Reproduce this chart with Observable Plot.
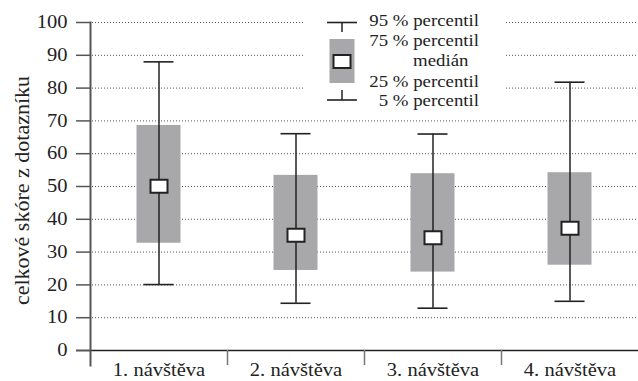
<!DOCTYPE html>
<html>
<head>
<meta charset="utf-8">
<script src="https://cdn.jsdelivr.net/npm/d3@7"></script>
<script src="https://cdn.jsdelivr.net/npm/@observablehq/plot@0.6"></script>
<style>
  html, body { margin: 0; padding: 0; background: #fff; }
</style>
</head>
<body>
<div id="chart"></div>
<script>
// Questionnaire total score per visit: 5th/25th/50th/75th/95th percentiles
const categories = ["1. návštěva", "2. návštěva", "3. návštěva", "4. návštěva"];
const p5     = [20.1, 14.4, 12.9, 15.0];
const q25    = [32.7, 24.4, 23.9, 26.0];
const median = [50.1, 35.1, 34.4, 37.3];
const q75    = [68.6, 53.4, 53.9, 54.2];
const p95    = [88.0, 66.1, 66.0, 81.8];

const yTicks = [0, 10, 20, 30, 40, 50, 60, 70, 80, 90, 100];
const yTitle = "celkové skóre z dotazníku";
const legendLabels = ["95 % percentil", "75 % percentil", "medián", "25 % percentil", "5 % percentil"];

const rows = categories.map((visit, i) => ({
  visit, p5: p5[i], q25: q25[i], median: median[i], q75: q75[i], p95: p95[i]
}));

const W = 638, H = 381;
const mL = 90, mR = 0, mT = 22, mB = 31;
const band = (W - mL - mR) / categories.length;
const boxW = 44, capW = 30;
const ink = "#222";
const boxFill = "#a8a8ab";
const font = "'Liberation Serif', 'DejaVu Serif', serif";

// small open rectangle used for the median
const medianSymbol = { draw(ctx) { ctx.rect(-8.5, -6.5, 17, 13); } };

const chart = Plot.plot({
  width: W,
  height: H,
  marginLeft: mL,
  marginRight: mR,
  marginTop: mT,
  marginBottom: mB,
  style: { fontFamily: font, fontSize: "18px", color: ink, background: "#fff", overflow: "visible" },
  x: { type: "band", domain: categories, padding: 0, label: null },
  y: { domain: [0, 100], label: null },
  marks: [
    Plot.gridY(yTicks.filter(v => v > 0), { stroke: "#555", strokeOpacity: 1, strokeDasharray: "1,2", insetLeft: 2 }),
    Plot.barY(rows, { x: "visit", y1: "q25", y2: "q75", fill: boxFill, insetLeft: (band - boxW) / 2, insetRight: (band - boxW) / 2 }),
    Plot.ruleX(rows, { x: "visit", y1: "p5", y2: "p95", stroke: ink, strokeWidth: 1.5 }),
    Plot.tickY(rows, { x: "visit", y: "p95", stroke: ink, strokeWidth: 1.6, insetLeft: (band - capW) / 2, insetRight: (band - capW) / 2 }),
    Plot.tickY(rows, { x: "visit", y: "p5", stroke: ink, strokeWidth: 1.6, insetLeft: (band - capW) / 2, insetRight: (band - capW) / 2 }),
    Plot.dot(rows, { x: "visit", y: "median", symbol: medianSymbol, fill: "#fff", stroke: ink, strokeWidth: 2 }),
    Plot.ruleY([0], { stroke: ink, strokeWidth: 1.5, insetLeft: -14 }),
    Plot.frame({ anchor: "left", stroke: "#555", strokeWidth: 2, insetBottom: -15 }),
    Plot.ruleX(categories.slice(1), { x: d => d, y1: 0, y2: 0, dx: -band / 2, insetBottom: -15, stroke: "#777", strokeWidth: 1.5 }),
    Plot.axisY(yTicks, { tickSize: 14, tickPadding: 9, stroke: "#555", strokeWidth: 1.5, fontSize: 18, label: null }),
    Plot.axisX({ tickSize: 0, tickPadding: 13, fontSize: 18, label: null }),
    Plot.text([yTitle], { frameAnchor: "left", textAnchor: "middle", rotate: -90, dx: -69, dy: 4, fontSize: 22, fill: ink })
  ]
});

document.getElementById("chart").appendChild(chart);

// Legend explaining the box symbol
const svg = d3.select(chart);
const lg = svg.append("g").attr("class", "box-legend");
lg.append("rect").attr("x", 304).attr("y", 12).attr("width", 202).attr("height", 100).attr("fill", "#fff");
const cx = 342;
lg.append("line").attr("x1", cx - 15).attr("x2", cx + 15).attr("y1", 22.5).attr("y2", 22.5).attr("stroke", ink).attr("stroke-width", 1.6);
lg.append("line").attr("x1", cx).attr("x2", cx).attr("y1", 22.5).attr("y2", 32).attr("stroke", ink).attr("stroke-width", 1.5);
lg.append("rect").attr("x", cx - 12.5).attr("y", 39).attr("width", 25).attr("height", 44).attr("fill", boxFill);
lg.append("rect").attr("x", cx - 8.5).attr("y", 55).attr("width", 17).attr("height", 13)
  .attr("fill", "#fff").attr("stroke", ink).attr("stroke-width", 2);
lg.append("line").attr("x1", cx).attr("x2", cx).attr("y1", 90).attr("y2", 100).attr("stroke", ink).attr("stroke-width", 1.5);
lg.append("line").attr("x1", cx - 15).attr("x2", cx + 15).attr("y1", 100).attr("y2", 100).attr("stroke", ink).attr("stroke-width", 1.6);

const baselines = [26, 46, 66, 86.5, 106];
legendLabels.forEach((label, i) => {
  const isMedian = i === 2;
  lg.append("text")
    .attr("x", isMedian ? 413 : 479)
    .attr("y", baselines[i])
    .attr("text-anchor", isMedian ? "start" : "end")
    .attr("font-family", font)
    .attr("font-size", 16.5)
    .attr("fill", ink)
    .text(label);
});

// Widen horizontal lettering slightly to the set's wide serif proportions
chart.querySelectorAll("text").forEach(t => {
  const tr = t.getAttribute("transform") || "";
  if (tr.includes("rotate")) return;
  const w = t.getComputedTextLength();
  if (w > 0) {
    t.setAttribute("textLength", (w * 1.14).toFixed(1));
    t.setAttribute("lengthAdjust", "spacingAndGlyphs");
  }
});
</script>
</body>
</html>
